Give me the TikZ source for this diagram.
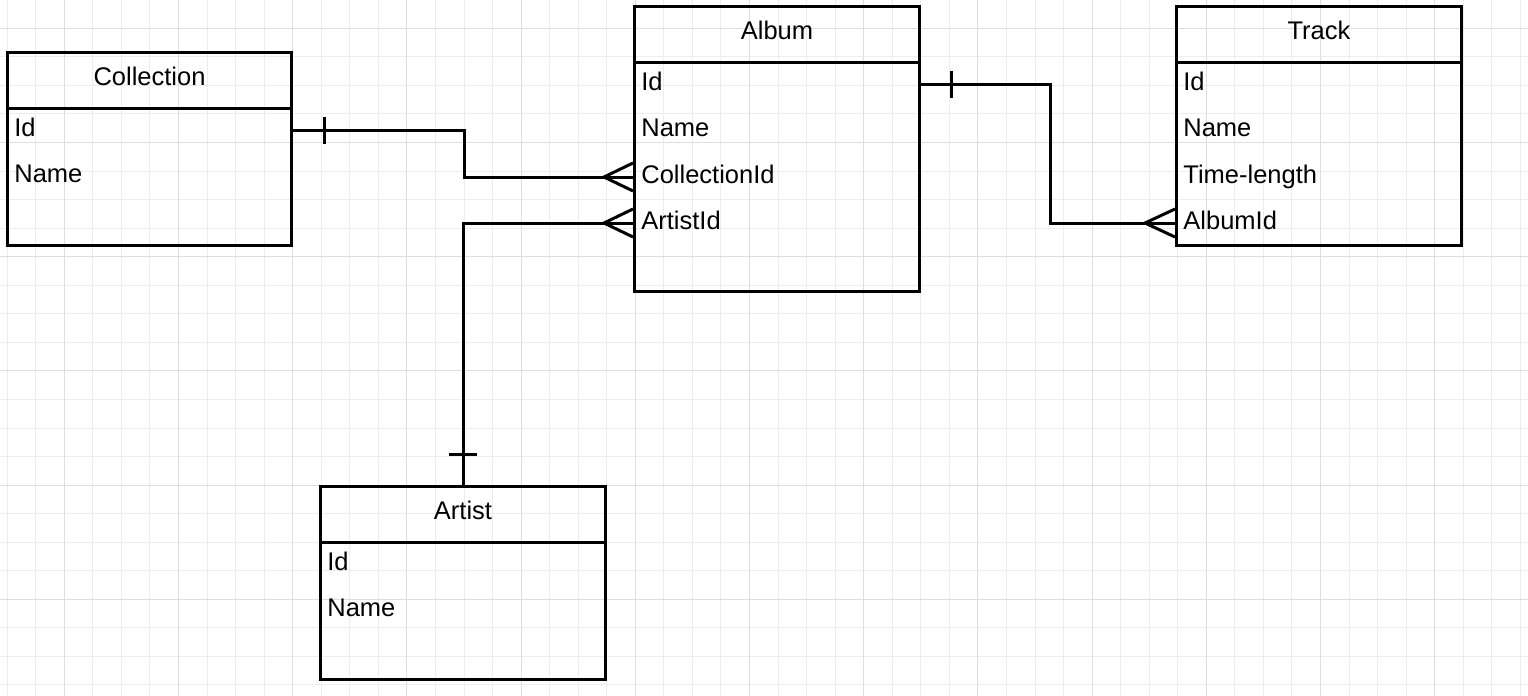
\documentclass[tikz,border=0pt]{standalone}
\usepackage{fontspec}
\setmainfont{Liberation Sans}
\newcommand\erfont{\fontsize{12.75pt}{15pt}\selectfont}
\tikzset{
  entity/.style={draw, line width=1.5pt, anchor=north west, inner sep=0pt},
  title/.style={font=\erfont, text height=9.1pt, text depth=0pt, inner sep=0pt},
  field/.style={font=\erfont, anchor=west, text height=9.1pt, text depth=3pt, inner sep=0pt},
  rel/.style={line width=1.5pt},
  minorgrid/.style={draw=black!7, line width=0.5pt},
  majorgrid/.style={draw=black!13, line width=0.5pt}
}
\begin{document}
\begin{tikzpicture}[x=0.5pt,y=-0.5pt]
\useasboundingbox (0,0) rectangle (1528,696);
\fill[white] (0,0) rectangle (1528,696);
% grid
\foreach \i in {0,...,53} \draw[minorgrid] ({7.2+28.55*\i},0) -- ++(0,696);
\foreach \j in {0,...,24} \draw[minorgrid] (0,{-0.25+28.55*\j}) -- ++(1528,0);
\foreach \i in {0,...,12} \draw[majorgrid] ({64.3+114.2*\i},0) -- ++(0,696);
\foreach \j in {0,...,5} \draw[majorgrid] (0,{28.3+114.2*\j}) -- ++(1528,0);

% entities
\node[entity, minimum width=142pt, minimum height=96.5pt] (collection) at (6,51) {};
\node[entity, minimum width=142.5pt, minimum height=142.5pt] (album) at (633,5) {};
\node[entity, minimum width=142.5pt, minimum height=119.5pt] (track) at (1175,5) {};
\node[entity, minimum width=142.5pt, minimum height=96.5pt] (artist) at (319,485) {};
\foreach \e in {collection,album,track,artist}
  \draw[rel] ([yshift=-28.5pt]\e.north west) -- ([yshift=-28.5pt]\e.north east);

% titles
\node[title] (collection-t) at ([yshift=-12.5pt]collection.north) {Collection};
\node[title] (album-t) at ([yshift=-12.5pt]album.north) {Album};
\node[title] (track-t) at ([yshift=-12.5pt]track.north) {Track};
\node[title] (artist-t) at ([yshift=-12.5pt]artist.north) {Artist};

% fields
\node[field] (collection-id) at ([xshift=4pt,yshift=-39.5pt]collection.north west) {Id};
\node[field] (collection-name) at ([xshift=4pt,yshift=-62.5pt]collection.north west) {Name};

\node[field] (album-id) at ([xshift=4pt,yshift=-39.5pt]album.north west) {Id};
\node[field] (album-name) at ([xshift=4pt,yshift=-62.5pt]album.north west) {Name};
\node[field] (album-cid) at ([xshift=4pt,yshift=-86pt]album.north west) {CollectionId};
\node[field] (album-aid) at ([xshift=4pt,yshift=-109pt]album.north west) {ArtistId};

\node[field] (track-id) at ([xshift=4pt,yshift=-39.5pt]track.north west) {Id};
\node[field] (track-name) at ([xshift=4pt,yshift=-62.5pt]track.north west) {Name};
\node[field] (track-len) at ([xshift=4pt,yshift=-86pt]track.north west) {Time-length};
\node[field] (track-alb) at ([xshift=4pt,yshift=-109pt]track.north west) {AlbumId};

\node[field] (artist-id) at ([xshift=4pt,yshift=-39.5pt]artist.north west) {Id};
\node[field] (artist-name) at ([xshift=4pt,yshift=-62.5pt]artist.north west) {Name};

% Collection -> Album
\draw[rel] (collection.east |- collection-id) -- ++(171,0) |- (album.west |- album-cid);
\draw[rel] (collection.east |- collection-id) ++(31,-13.5) -- ++(0,27);
\draw[rel] (album.west |- album-cid) ++(0,-14) -- ++(-29,14) -- ++(29,14);

% Artist -> Album
\draw[rel] (artist.north) |- (album.west |- album-aid);
\draw[rel] (artist.north) ++(-14,-31) -- ++(28,0);
\draw[rel] (album.west |- album-aid) ++(0,-14) -- ++(-29,14) -- ++(29,14);

% Album -> Track
\draw[rel] (album.east |- album-id) -- ++(129,0) |- (track.west |- track-alb);
\draw[rel] (album.east |- album-id) ++(30,-13.5) -- ++(0,27);
\draw[rel] (track.west |- track-alb) ++(0,-14) -- ++(-30,14) -- ++(30,14);
\end{tikzpicture}
\end{document}
